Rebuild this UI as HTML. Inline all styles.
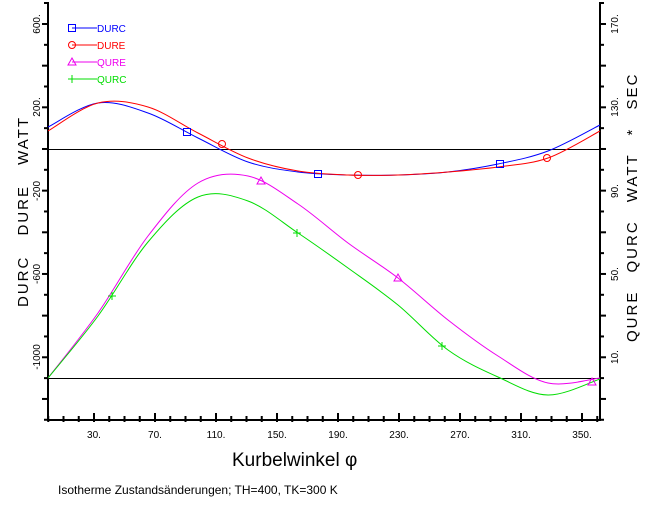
<!DOCTYPE html>
<html><head><meta charset="utf-8"><style>
body{margin:0;background:#fff;width:659px;height:516px;overflow:hidden}
svg text{font-family:"Liberation Sans",sans-serif}
</style></head><body>
<svg id="s" width="659" height="516" xmlns="http://www.w3.org/2000/svg">
<g id="ax" stroke="#000" stroke-width="2" fill="none">
<line x1="48" y1="2" x2="48" y2="421"/>
<line x1="600" y1="2" x2="600" y2="421"/>
<line x1="47" y1="420" x2="601" y2="420"/>
</g>
<line x1="48" y1="149.5" x2="600" y2="149.5" stroke="#000" stroke-width="1"/>
<line x1="48" y1="378.5" x2="600" y2="378.5" stroke="#000" stroke-width="1"/>
<g id="curves" fill="none" stroke-width="1"></g>
<g font-size="10">
<text x="232" y="466" font-size="19">Kurbelwinkel φ</text>
<text x="58" y="494" font-size="12">Isotherme Zustandsänderungen; TH=400, TK=300 K</text>
<text transform="translate(28,307) rotate(-90)" font-size="15" letter-spacing="2" word-spacing="14">DURC DURE WATT</text>
<text transform="translate(637,342) rotate(-90)" font-size="15" letter-spacing="2" word-spacing="12">QURE QURC WATT * SEC</text>
</g>
</svg>
<script>
const S=document.getElementById('s'),NS='http://www.w3.org/2000/svg';
function el(t,a,p){const e=document.createElementNS(NS,t);for(const k in a)e.setAttribute(k,a[k]);(p||S).appendChild(e);return e}
for(let i=0;i<=20;i++){const y=24+i*20.83;if(y>420)break;const maj=i%2==0;
 el('line',{x1:maj?42:44,y1:y,x2:48,y2:y,stroke:'#000','stroke-width':2});
 el('line',{x1:600,y1:y,x2:maj?606:604,y2:y,stroke:'#000','stroke-width':2});}
el('line',{x1:44,y1:3,x2:48,y2:3,stroke:'#000','stroke-width':2});
el('line',{x1:600,y1:3,x2:604,y2:3,stroke:'#000','stroke-width':2});
[['600.',24],['200.',107],['-200',191],['-600',274],['-1000',357]].forEach(([t,y])=>{const e=el('text',{transform:`translate(40,${y}) rotate(-90)`,'text-anchor':'middle','font-size':10});e.textContent=t});
[['170.',24],['130.',107],['90.',191],['50.',274],['10.',357]].forEach(([t,y])=>{const e=el('text',{transform:`translate(618,${y}) rotate(-90)`,'text-anchor':'middle','font-size':10});e.textContent=t});
for(let d=0;d<=360;d+=10){const x=48.25+d*1.525;const maj=(d-30)%40==0;
 el('line',{x1:x,y1:maj?413:416,x2:x,y2:422,stroke:'#000','stroke-width':2});
 if(maj){const e=el('text',{x:x,y:438,'text-anchor':'middle','font-size':10});e.textContent=d+'.'}}
function cr(p){let d=`M${p[0][0]},${p[0][1]}`;for(let i=0;i<p.length-1;i++){const a=p[Math.max(0,i-1)],b=p[i],c=p[i+1],e=p[Math.min(p.length-1,i+2)];
 d+=` C${b[0]+(c[0]-a[0])/6},${b[1]+(c[1]-a[1])/6} ${c[0]-(e[0]-b[0])/6},${c[1]-(e[1]-b[1])/6} ${c[0]},${c[1]}`}return d}
const G=document.getElementById('curves');
const X=[48,98,148,198,248,298,348,398,448,498,548,600];
const C={
blue:[127,103,113,138,162,172,175,175,172,164,151,125],
red:[131,103,107,133,158,171,175,175,172,167,158,131],
'#e0e':[378,313,236,183,176,204,243,278,320,356,383,378],
'#0d0':[378,316,242,197,201,233,268,305,350,377,395,379]};
for(const k in C)el('path',{d:cr(X.map((x,i)=>[x,C[k][i]])),stroke:k},G);
function mk(type,x,y,c){
 if(type=='sq')el('rect',{x:x-3.5,y:y-3.5,width:7,height:7,stroke:c,fill:'none'},G);
 if(type=='ci')el('circle',{cx:x,cy:y,r:3.5,stroke:c,fill:'none'},G);
 if(type=='tr')el('path',{d:`M${x},${y-4}L${x+4},${y+3}L${x-4},${y+3}Z`,stroke:c,fill:'none'},G);
 if(type=='pl')el('path',{d:`M${x-4},${y}H${x+4}M${x},${y-4}V${y+4}`,stroke:c},G);}
[[187,132],[318,174],[500,164]].forEach(p=>mk('sq',p[0],p[1],'blue'));
[[222,144],[358,175],[547,158]].forEach(p=>mk('ci',p[0],p[1],'red'));
[[261,181],[398,278],[592,382]].forEach(p=>mk('tr',p[0],p[1],'#e0e'));
[[112,296],[297,233],[442,346]].forEach(p=>mk('pl',p[0],p[1],'#0d0'));
[['sq','blue','DURC'],['ci','red','DURE'],['tr','#e0e','QURE'],['pl','#0d0','QURC']].forEach(([t,c,n],i)=>{const y=28+i*17;el('line',{x1:72,y1:y,x2:97,y2:y,stroke:c});mk(t,72,y,c);
 const e=el('text',{x:97,y:y+4,fill:c,'font-size':10});e.textContent=n});
</script>
</body></html>
